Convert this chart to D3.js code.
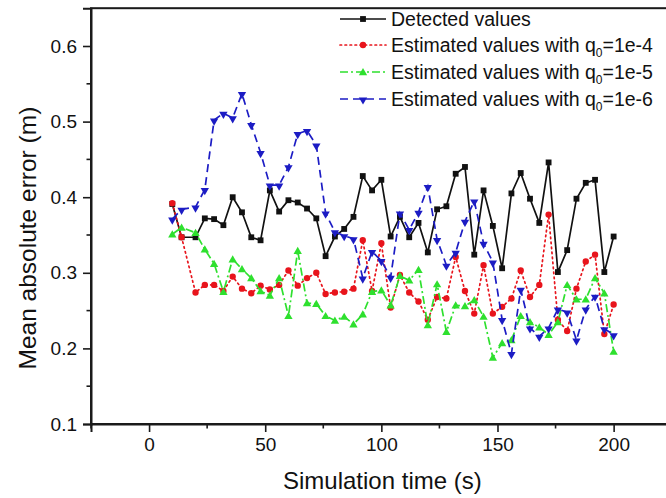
<!DOCTYPE html>
<html>
<head>
<meta charset="utf-8">
<script src="https://cdn.jsdelivr.net/npm/d3@7"></script>
<style>
  html, body { margin: 0; padding: 0; background: #fff; }
  svg { display: block; font-family: "Liberation Sans", Arial, sans-serif; }
</style>
</head>
<body>
<svg id="chart" width="666" height="498"></svg>
<script>
// Simulation time (s)
const times = [10, 14, 20, 24, 28, 32, 36, 40, 44, 48, 52, 56, 60, 64, 68, 72, 76, 80, 84, 88,
  92, 96, 100, 104, 108, 112, 116, 120, 124, 128, 132, 136, 140, 144, 148, 152, 156, 160, 164, 168,
  172, 176, 180, 184, 188, 192, 196, 200];

// Mean absolute error (m)
const detected = [0.391, 0.347, 0.347, 0.372, 0.371, 0.363, 0.400, 0.380, 0.347, 0.343, 0.409, 0.381,
  0.396, 0.393, 0.385, 0.372, 0.322, 0.348, 0.358, 0.374, 0.428, 0.409, 0.423, 0.348, 0.374, 0.347,
  0.366, 0.327, 0.384, 0.388, 0.431, 0.440, 0.324, 0.409, 0.362, 0.306, 0.405, 0.432, 0.398, 0.366,
  0.446, 0.301, 0.330, 0.398, 0.419, 0.423, 0.301, 0.348];
const estQ4 = [0.392, 0.347, 0.274, 0.284, 0.284, 0.276, 0.295, 0.279, 0.273, 0.283, 0.278, 0.284,
  0.303, 0.283, 0.293, 0.300, 0.272, 0.274, 0.275, 0.279, 0.343, 0.276, 0.339, 0.254, 0.297, 0.274,
  0.262, 0.238, 0.268, 0.266, 0.321, 0.276, 0.246, 0.310, 0.246, 0.255, 0.266, 0.303, 0.268, 0.284,
  0.377, 0.238, 0.223, 0.279, 0.315, 0.324, 0.219, 0.258];
const estQ5 = [0.351, 0.360, 0.353, 0.331, 0.312, 0.275, 0.318, 0.305, 0.293, 0.276, 0.270, 0.293,
  0.243, 0.329, 0.260, 0.259, 0.243, 0.237, 0.242, 0.232, 0.245, 0.275, 0.277, 0.257, 0.296, 0.290,
  0.304, 0.231, 0.285, 0.222, 0.257, 0.256, 0.264, 0.242, 0.188, 0.207, 0.211, 0.243, 0.235, 0.228,
  0.218, 0.235, 0.284, 0.265, 0.265, 0.293, 0.273, 0.196];
const estQ6 = [0.371, 0.384, 0.387, 0.410, 0.502, 0.511, 0.505, 0.537, 0.496, 0.459, 0.416, 0.416,
  0.440, 0.484, 0.488, 0.469, 0.379, 0.354, 0.349, 0.345, 0.293, 0.328, 0.316, 0.294, 0.379, 0.357,
  0.380, 0.414, 0.344, 0.310, 0.327, 0.368, 0.395, 0.339, 0.314, 0.238, 0.193, 0.278, 0.227, 0.216,
  0.227, 0.252, 0.248, 0.211, 0.252, 0.269, 0.226, 0.218];

const xTicks = [0, 50, 100, 150, 200];
const xMinorTicks = [-25, 25, 75, 125, 175, 225];
const yTicks = [0.1, 0.2, 0.3, 0.4, 0.5, 0.6];
const yMinorTicks = [0.15, 0.25, 0.35, 0.45, 0.55];

const seriesNames = ["Detected values", "Estimated values with q", "Estimated values with q", "Estimated values with q"];
const seriesSub = ["", "0", "0", "0"];
const seriesTail = ["", "=1e-4", "=1e-5", "=1e-6"];

const series = [
  { values: detected, color: "#111111", dash: null, shape: "square" },
  { values: estQ4, color: "#e8141c", dash: "1.6,3.4", shape: "circle" },
  { values: estQ5, color: "#2ee02e", dash: "8,3,2,3", shape: "up" },
  { values: estQ6, color: "#1c1cc4", dash: "8,5", shape: "down" }
];

const svg = d3.select("#chart");
const x = d3.scaleLinear().domain([-25, 225]).range([91, 671.7]);
const y = d3.scaleLinear().domain([0.1, 0.65]).range([424, 8.2]);

const axisColor = "#1a1a1a";

// frame
svg.append("rect")
  .attr("x", x(-25)).attr("y", y(0.65))
  .attr("width", x(225) - x(-25)).attr("height", y(0.1) - y(0.65))
  .attr("fill", "none").attr("stroke", axisColor).attr("stroke-width", 2);

// x axis
const xAxis = svg.append("g").attr("transform", `translate(0,${y(0.1)})`)
  .call(d3.axisBottom(x).tickValues(xTicks).tickSize(8).tickPadding(6).tickFormat(d3.format("d")));
xAxis.select(".domain").attr("stroke", axisColor).attr("stroke-width", 2);
xAxis.selectAll(".tick line").attr("stroke", axisColor).attr("stroke-width", 1.6);
xAxis.selectAll(".tick text").attr("font-size", 19).attr("fill", "#111")
  .attr("font-family", "Liberation Sans, Arial, sans-serif");
xAxis.selectAll(".xminor").data(xMinorTicks).enter().append("line")
  .attr("x1", d => x(d)).attr("x2", d => x(d)).attr("y1", 0).attr("y2", 4.5)
  .attr("stroke", axisColor).attr("stroke-width", 1.6);

// y axis
const yAxis = svg.append("g").attr("transform", `translate(${x(-25)},0)`)
  .call(d3.axisLeft(y).tickValues(yTicks).tickSize(8).tickPadding(6).tickFormat(d3.format(".1f")));
yAxis.select(".domain").attr("stroke", axisColor).attr("stroke-width", 2);
yAxis.selectAll(".tick line").attr("stroke", axisColor).attr("stroke-width", 1.6);
yAxis.selectAll(".tick text").attr("font-size", 19).attr("fill", "#111")
  .attr("font-family", "Liberation Sans, Arial, sans-serif");
yAxis.selectAll(".yminor").data(yMinorTicks).enter().append("line")
  .attr("x1", 0).attr("x2", -4.5).attr("y1", d => y(d)).attr("y2", d => y(d))
  .attr("stroke", axisColor).attr("stroke-width", 1.6);

// axis titles
svg.append("text")
  .attr("x", (x(0) + x(200)) / 2 + 1).attr("y", 489)
  .attr("text-anchor", "middle").attr("font-size", 24).attr("fill", "#111")
  .text("Simulation time (s)");
svg.append("text")
  .attr("transform", `translate(36,${(y(0.1) + y(0.65)) / 2 + 22}) rotate(-90)`)
  .attr("text-anchor", "middle").attr("font-size", 24.5).attr("fill", "#111")
  .text("Mean absolute error (m)");

function symbolPath(shape) {
  if (shape === "square") return d3.symbol().type(d3.symbolSquare).size(34)();
  if (shape === "circle") return d3.symbol().type(d3.symbolCircle).size(32)();
  return d3.symbol().type(d3.symbolTriangle).size(30)();
}
function markerTransform(shape, px, py) {
  if (shape === "down") return `translate(${px},${py + 0.8}) rotate(180)`;
  if (shape === "up") return `translate(${px},${py + 0.8})`;
  return `translate(${px},${py})`;
}

const plot = svg.append("g");
const line = d3.line().x((d, i) => x(times[i])).y(d => y(d));

series.forEach(s => {
  const g = plot.append("g");
  g.append("path")
    .attr("d", line(s.values))
    .attr("fill", "none")
    .attr("stroke", s.color)
    .attr("stroke-width", 1.7)
    .attr("stroke-linecap", s.shape === "circle" ? "round" : "butt")
    .attr("stroke-dasharray", s.dash);
  g.selectAll("path.m").data(s.values).enter().append("path")
    .attr("class", "m")
    .attr("d", symbolPath(s.shape))
    .attr("transform", (d, i) => markerTransform(s.shape, x(times[i]), y(d)))
    .attr("fill", s.color);
});

// legend
const legendRows = [19, 45, 72, 99];
const legend = svg.append("g");
series.forEach((s, i) => {
  const cy = legendRows[i];
  legend.append("line")
    .attr("x1", 340).attr("x2", 386).attr("y1", cy).attr("y2", cy)
    .attr("stroke", s.color).attr("stroke-width", 1.7)
    .attr("stroke-linecap", s.shape === "circle" ? "round" : "butt")
    .attr("stroke-dasharray", s.dash);
  legend.append("path")
    .attr("d", symbolPath(s.shape))
    .attr("transform", markerTransform(s.shape, 363, cy))
    .attr("fill", s.color);
  const t = legend.append("text")
    .attr("x", 391).attr("y", cy + 7)
    .attr("font-size", 19.5).attr("fill", "#111");
  t.append("tspan").text(seriesNames[i]);
  if (seriesSub[i]) {
    t.append("tspan").attr("font-size", 12).attr("dy", 5).text(seriesSub[i]);
    t.append("tspan").attr("dy", -5).text(seriesTail[i]);
  }
});
</script>
</body>
</html>
